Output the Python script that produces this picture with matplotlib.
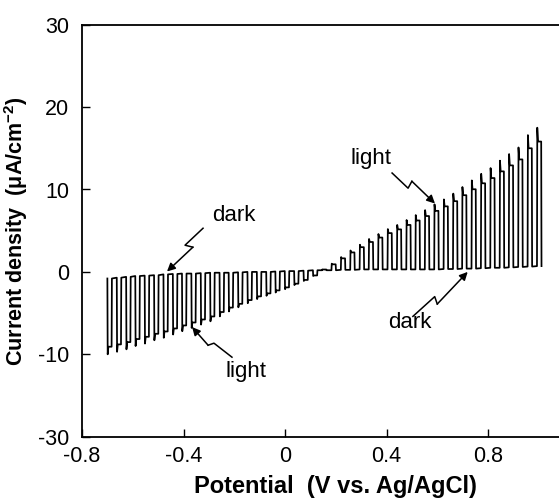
import matplotlib
matplotlib.use("Agg")
import matplotlib.pyplot as plt
import numpy as np

plt.rcParams['font.family'] = ['Liberation Sans', 'DejaVu Sans']
plt.rcParams['mathtext.fontset'] = 'custom'
plt.rcParams['mathtext.rm'] = 'Liberation Sans'
plt.rcParams['mathtext.bf'] = 'Liberation Sans:bold'

# ---- data ----
# potential (V) at which each light-on period starts
pulse_V = [-0.700, -0.663, -0.626, -0.590, -0.553, -0.516, -0.479, -0.442, -0.406, -0.369,
           -0.332, -0.295, -0.258, -0.222, -0.185, -0.148, -0.111, -0.074, -0.038, -0.001,
           0.036, 0.073, 0.110, 0.146, 0.183, 0.220, 0.257, 0.294, 0.330, 0.367,
           0.404, 0.441, 0.478, 0.514, 0.551, 0.588, 0.625, 0.662, 0.698, 0.735,
           0.772, 0.809, 0.846, 0.882, 0.919, 0.956, 0.993]
# photocurrent under illumination (uA/cm2)
light_j = [-10.0, -9.7, -9.4, -9.0, -8.7, -8.3, -8.0, -7.6, -7.2, -6.8,
           -6.4, -6.0, -5.4, -4.8, -4.3, -3.8, -3.3, -2.9, -2.5, -2.1,
           -1.6, -1.1, -0.5, 0.3, 1.0, 1.8, 2.6, 3.3, 4.0, 4.6,
           5.2, 5.7, 6.3, 6.9, 7.5, 8.2, 8.8, 9.5, 10.3, 11.1,
           11.9, 12.6, 13.5, 14.3, 15.1, 16.6, 17.5]
# dark current (uA/cm2)
dark_j = [-0.8, -0.7, -0.6, -0.5, -0.45, -0.4, -0.3, -0.25, -0.2, -0.2,
          -0.15, -0.1, -0.1, -0.1, -0.05, 0.0, 0.0, 0.0, 0.05, 0.1,
          0.1, 0.15, 0.2, 0.2, 0.2, 0.25, 0.25, 0.3, 0.3, 0.3,
          0.3, 0.3, 0.3, 0.3, 0.3, 0.3, 0.35, 0.35, 0.4, 0.4,
          0.45, 0.5, 0.5, 0.55, 0.6, 0.65, 0.7]

x_ticks = [-0.8, -0.4, 0, 0.4, 0.8]
x_ticklabels = ['-0.8', '-0.4', '0', '0.4', '0.8']
y_ticks = [-20, -10, 0, 10, 20, 30]
y_ticklabels = ['-30', '-10', '0', '10', '20', '30']

# ---- build chopped-light trace ----
period = pulse_V[1] - pulse_V[0]
on_frac = 0.45
xs, ys = [], []
n = len(pulse_V)
for i in range(n):
    v0 = pulse_V[i]
    d = dark_j[i]
    L = light_j[i]
    ss = d + 0.9 * (L - d)
    von = v0 + on_frac * period
    xs += [v0, v0 + 0.0012, v0 + 0.004, von, von + 0.0012]
    ys += [d, L, ss, ss, d]
    if i < n - 1:
        xs += [pulse_V[i + 1]]
        ys += [dark_j[i + 1]]

fig = plt.figure(figsize=(5.59, 5.03), dpi=100)
W, H = 559, 503
x_left, y_top, y_bot = 82, 24.7, 436.7
xlim = (-0.8, 1.2)
px_per_V = 253.75
ax_w_px = (xlim[1] - xlim[0]) * px_per_V
ax = fig.add_axes([x_left / W, (H - y_bot) / H, ax_w_px / W, (y_bot - y_top) / H])
ax.plot(xs, ys, color='black', lw=1.25)

ax.set_xlim(*xlim)
ax.set_ylim(-20, 30)
ax.set_xticks(x_ticks)
ax.set_xticklabels(x_ticklabels)
ax.set_yticks(y_ticks)
ax.set_yticklabels(y_ticklabels)
ax.tick_params(direction='in', length=6, width=1.0, labelsize=15.5, pad=7)
ax.tick_params(axis='y', pad=9)
for s in ax.spines.values():
    s.set_linewidth(1.3)

ax.set_xlabel('Potential  (V vs. Ag/AgCl)', fontsize=17, fontweight='bold')
ax.set_ylabel('Current density  (μA/cm$^{\\mathbf{-2}}$)', fontsize=15.5,
              fontweight='bold', labelpad=6)
ax.xaxis.set_label_coords((335 - x_left) / ax_w_px, (y_bot - 475) / (y_bot - y_top))


def zig(pts, text, tpos):
    xs_ = [p[0] for p in pts]
    ys_ = [p[1] for p in pts]
    ax.plot(xs_[:-1], ys_[:-1], color='black', lw=1.1)
    ax.annotate('', xy=pts[-1], xytext=pts[-2],
                arrowprops=dict(arrowstyle='-|>', color='black', lw=1.1,
                                mutation_scale=12, shrinkA=0, shrinkB=0))
    ax.text(tpos[0], tpos[1], text, fontsize=16, ha='center', va='center')


zig([(-0.323, 5.3), (-0.394, 3.24), (-0.363, 3.0), (-0.465, 0.05)], 'dark', (-0.201, 6.9))
zig([(-0.209, -10.35), (-0.280, -8.65), (-0.303, -8.9), (-0.366, -6.7)], 'light', (-0.154, -12.05))
zig([(0.422, 12.0), (0.485, 10.16), (0.500, 11.0), (0.591, 8.3)], 'light', (0.339, 13.8))
zig([(0.504, -5.4), (0.590, -3.0), (0.600, -3.9), (0.720, 0.0)], 'dark', (0.493, -6.2))

fig.savefig('out.png', dpi=100)
